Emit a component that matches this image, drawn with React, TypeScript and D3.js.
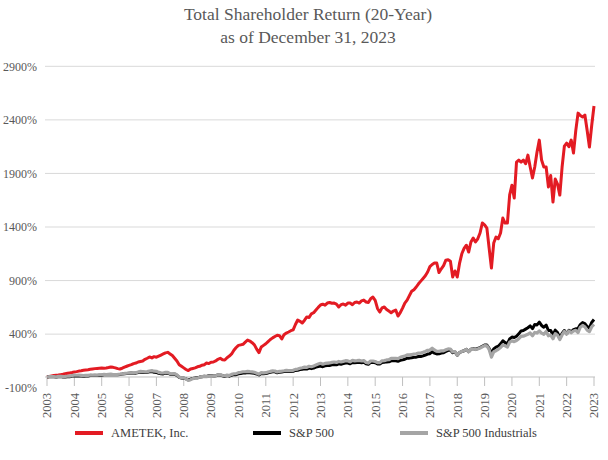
import React from 'react';
import * as d3 from 'd3';

// monthly cumulative total return (%) from Dec 2003, one value per month-end
const startYear = 2003;
const yearLabels = d3.range(2003, 2024).map(String);
const yTicks = [-100, 400, 900, 1400, 1900, 2400, 2900];

const ametek = [0,
  5, 10, 14, 16, 18, 22, 25, 30, 34, 38, 42, 47,
  50, 55, 58, 62, 65, 68, 72, 75, 78, 80, 82, 84,
  82, 84, 88, 93, 90, 85, 78, 75, 82, 92, 100, 108,
  115, 125, 130, 140, 145, 150, 165, 175, 187, 178, 190, 185,
  195, 205, 215, 225, 230, 215, 200, 175, 150, 115, 100, 85,
  70, 60, 75, 80, 85, 95, 100, 110, 115, 130, 125, 138,
  140, 150, 165, 175, 160, 158, 180, 195, 215, 250, 275, 295,
  300, 305, 325, 345, 335, 320, 300, 260, 228, 280, 295, 310,
  330, 350, 365, 378, 390, 385, 355, 395, 410, 420, 432, 440,
  490, 532, 520, 504, 530, 560, 555, 590, 600, 625, 650, 672,
  680, 670, 690, 695, 688, 690, 680, 653, 675, 681, 670, 690,
  690, 675, 695, 700, 690, 710, 718, 700, 695, 730, 746, 715,
  640, 606, 645, 653, 630, 615, 600, 615, 625, 569, 600, 643,
  690, 718, 760, 800, 815, 840, 870, 895, 920, 945, 980, 1030,
  1050, 1064, 1064, 975, 1010, 1040, 1090, 1095, 1080, 933, 990, 933,
  1060, 1150, 1200, 1230, 1166, 1260, 1297, 1260, 1290, 1344, 1437, 1420,
  1390, 1200, 1017, 1250, 1306, 1290, 1344, 1484, 1437, 1437, 1700, 1790,
  1670, 2006, 2025, 2006, 2025, 1990, 2071, 1960, 1857, 1960, 2100, 2211,
  2025, 1960, 1960, 1773, 1880, 1633, 1848, 1800, 1698, 1960, 2155, 2183,
  2150, 2211, 2090, 2300, 2463, 2440, 2426, 2445, 2300, 2146, 2350, 2529];

const sp500 = [0,
  2, 3, 2, 0, 2, 4, 0, 1, 2, 3, 8, 11,
  9, 11, 9, 7, 10, 10, 14, 13, 14, 13, 17, 17,
  20, 20, 22, 23, 20, 20, 21, 24, 27, 31, 33, 35,
  37, 35, 36, 42, 47, 45, 41, 43, 48, 50, 44, 43,
  34, 30, 29, 36, 37, 26, 25, 27, 15, -4, -11, -10,
  -18, -27, -20, -13, -8, -8, -1, 3, 7, 5, 11, 13,
  9, 12, 19, 21, 11, 5, 13, 8, 17, 22, 22, 30,
  33, 38, 38, 42, 40, 38, 35, 28, 19, 32, 31, 33,
  38, 44, 49, 48, 39, 45, 47, 50, 54, 51, 52, 53,
  61, 63, 69, 73, 77, 74, 83, 78, 83, 92, 98, 103,
  96, 104, 106, 108, 113, 117, 114, 123, 119, 125, 131, 130,
  123, 136, 132, 135, 138, 133, 138, 123, 118, 136, 137, 133,
  122, 121, 136, 137, 141, 142, 151, 151, 151, 147, 155, 160,
  166, 176, 176, 179, 183, 185, 191, 191, 197, 205, 214, 217,
  236, 223, 215, 216, 224, 226, 238, 249, 251, 227, 234, 203,
  228, 238, 245, 259, 236, 260, 265, 259, 266, 274, 287, 299,
  299, 266, 221, 262, 279, 287, 309, 338, 321, 310, 355, 373,
  368, 381, 403, 430, 434, 447, 460, 477, 451, 490, 486, 512,
  481, 464, 485, 434, 435, 391, 437, 415, 368, 406, 434, 403,
  435, 422, 441, 450, 452, 489, 508, 499, 470, 459, 510, 537];

const industrials = [0,
  3, 4, 4, 2, 5, 7, 4, 5, 7, 8, 14, 18,
  16, 17, 15, 13, 16, 15, 19, 18, 19, 17, 21, 21,
  24, 23, 25, 26, 23, 23, 24, 26, 29, 33, 35, 37,
  39, 38, 40, 47, 52, 51, 48, 50, 56, 59, 54, 53,
  43, 38, 37, 43, 44, 32, 30, 32, 19, -1, -9, -8,
  -18, -32, -25, -15, -10, -11, -1, 3, 6, 3, 8, 11,
  8, 12, 20, 23, 14, 9, 18, 14, 24, 30, 31, 41,
  44, 49, 49, 53, 50, 48, 44, 36, 26, 40, 38, 40,
  46, 52, 57, 56, 47, 53, 55, 58, 62, 59, 60, 62,
  71, 74, 81, 86, 92, 89, 100, 96, 102, 113, 121, 128,
  119, 127, 129, 131, 136, 140, 136, 145, 140, 146, 152, 150,
  142, 155, 150, 152, 155, 149, 153, 136, 130, 149, 149, 144,
  134, 134, 151, 153, 159, 161, 173, 174, 175, 172, 183, 190,
  195, 206, 206, 210, 214, 216, 223, 223, 230, 239, 249, 251,
  269, 252, 240, 239, 244, 244, 254, 262, 261, 234, 238, 204,
  229, 238, 245, 258, 234, 258, 262, 256, 262, 270, 282, 293,
  291, 257, 185, 235, 245, 258, 275, 300, 290, 280, 325, 337,
  330, 340, 357, 379, 381, 389, 398, 411, 385, 416, 410, 429,
  409, 399, 425, 384, 391, 357, 405, 390, 350, 392, 425, 400,
  429, 413, 429, 435, 415, 465, 481, 468, 438, 424, 469, 491];

const seriesNames = ['AMETEK, Inc.', 'S&P 500', 'S&P 500 Industrials'];
const seriesColors = ['#e31b23', '#000000', '#a5a5a5'];

const WIDTH = 608;
const HEIGHT = 460;
const FONT = "'Liberation Serif', 'Times New Roman', Times, serif";
const txt = { fontFamily: FONT };

const App: React.FC = () => {
  const x = d3.scaleLinear().domain([2003, 2023]).range([47, 594]);
  const y = d3.scaleLinear().domain([-100, 2900]).range([387.7, 66.3]);

  const line = d3.line<number>()
    .x((_, i) => x(startYear + i / 12))
    .y(d => y(d));

  const allSeries = [ametek, sp500, industrials];
  const legendX = [75, 253, 400];

  return (
    <svg width={WIDTH} height={HEIGHT} style={{ position: 'absolute', left: 0, top: 0, background: '#fff' }}>
      <text x={308} y={20} textAnchor="middle" fontSize={17.5} fill="#595959" style={txt}>Total Shareholder Return (20-Year)</text>
      <text x={308} y={43} textAnchor="middle" fontSize={17.5} fill="#595959" style={txt}>as of December 31, 2023</text>

      {/* gridlines */}
      {yTicks.filter(t => t > 0).map(t => (
        <line key={t} x1={45} x2={595} y1={y(t)} y2={y(t)} stroke="#d9d9d9" strokeWidth={1} />
      ))}
      {yTicks.map(t => (
        <text key={'l' + t} x={37} y={y(t)} dy="0.35em" textAnchor="end" fontSize={12} fill="#595959" style={txt}>{t}%</text>
      ))}

      {/* x axis at 0% */}
      <line x1={45} x2={595} y1={y(0)} y2={y(0)} stroke="#bfbfbf" strokeWidth={1} />
      {yearLabels.map(l => (
        <g key={l}>
          <line x1={x(+l)} x2={x(+l)} y1={y(0)} y2={y(0) + 9} stroke="#bfbfbf" strokeWidth={1} />
          <text transform={`translate(${x(+l)},393) rotate(-90)`} dy="0.35em" textAnchor="end"
            fontSize={12.5} fill="#595959" style={txt}>{l}</text>
        </g>
      ))}

      {allSeries.map((s, i) => (
        <path key={seriesNames[i]} d={line(s) ?? ''} fill="none" stroke={seriesColors[i]}
          strokeWidth={i === 2 ? 3.2 : 3} strokeLinejoin="round" />
      ))}

      {/* legend */}
      {seriesNames.map((n, i) => (
        <g key={n}>
          <line x1={legendX[i]} x2={legendX[i] + 28} y1={433} y2={433} stroke={seriesColors[i]} strokeWidth={4} />
          <text x={legendX[i] + 36} y={433} dy="0.35em" fontSize={12.5} fill="#404040" style={txt}>{n}</text>
        </g>
      ))}
    </svg>
  );
};

export default App;
